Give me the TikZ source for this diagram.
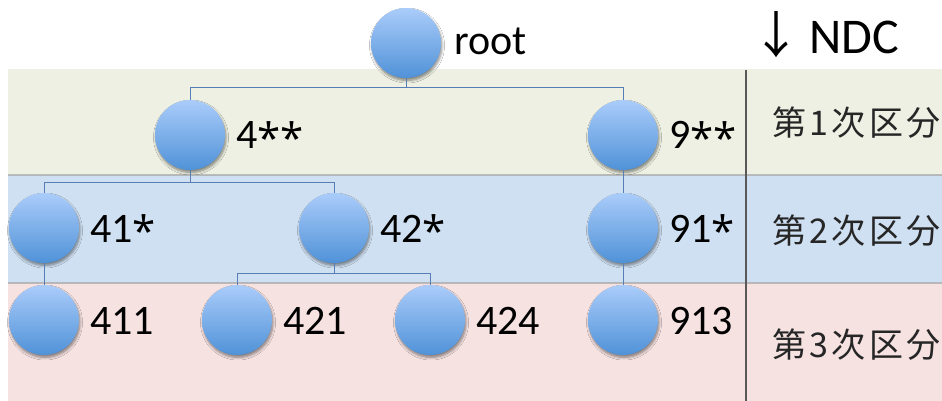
\documentclass[tikz,border=0pt]{standalone}
\usepackage{fontspec}
\setmainfont{Carlito}
\newfontfamily\jp{Noto Sans CJK JP}
\newfontfamily\jprow[LetterSpace=10]{Noto Sans CJK JP}
\newfontfamily\starfont{Open Sans}
\usetikzlibrary{calc,shadows.blur}

\definecolor{bandA}{RGB}{237,240,226}
\definecolor{bandB}{RGB}{207,224,242}
\definecolor{bandC}{RGB}{245,226,225}
\definecolor{ballTop}{RGB}{170,204,250}
\definecolor{ballBot}{RGB}{80,146,216}
\definecolor{wire}{RGB}{88,126,182}
\definecolor{rowtext}{RGB}{38,38,38}

% wildcard stars of the class codes, set a little larger
\newcommand\wild[1]{{\starfont\raisebox{-4.5pt}{#1}}}

\tikzset{
  ball/.style={circle, minimum size=70pt, inner sep=0pt,
    top color=ballTop, bottom color=ballBot, draw=none,
    blur shadow={shadow xshift=1pt, shadow yshift=-2.5pt,
      shadow blur steps=6, shadow opacity=45, shadow blur radius=2.5pt}},
  lbl/.style={anchor=base west, inner sep=0pt,
    font=\fontsize{42}{48}\selectfont},
  wirestyle/.style={draw=wire, line width=1pt},
  rowlbl/.style={anchor=west, inner sep=0pt, text=rowtext,
    font=\jprow\fontsize{34}{40}\selectfont},
  seam/.style={draw=black!35, line width=1.6pt, opacity=0.7}
}

\begin{document}
\begin{tikzpicture}[x=1pt, y=-1pt]
  \useasboundingbox (0,0) rectangle (942,401);
  \fill[white] (0,0) rectangle (942,401);

  % level bands
  \fill[bandA] (8,69) rectangle (942,175);
  \fill[bandB] (8,175) rectangle (942,283);
  \fill[bandC] (8,283) rectangle (942,401);
  \draw[seam] (8,175) -- (942,175);
  \draw[seam] (8,283) -- (942,283);

  % divider between tree and level names
  \draw[black!65, line width=2pt] (746,70) -- (746,401);

  % tree nodes
  \node[ball] (root) at (406,43) {};
  \node[ball] (n4)   at (190,135) {};
  \node[ball] (n9)   at (623,135) {};
  \node[ball] (n41)  at (44,228) {};
  \node[ball] (n42)  at (334,228) {};
  \node[ball] (n91)  at (623,228) {};
  \node[ball] (n411) at (44,320) {};
  \node[ball] (n421) at (237,320) {};
  \node[ball] (n424) at (430,320) {};
  \node[ball] (n913) at (623,320) {};

  % connectors
  \draw[wirestyle] (root.south) -- (root.south |- 0,88) -| (n4.north);
  \draw[wirestyle] (root.south |- 0,88) -| (n9.north);
  \draw[wirestyle] (n4.south) -- (n4.south |- 0,182) -| (n41.north);
  \draw[wirestyle] (n4.south |- 0,182) -| (n42.north);
  \draw[wirestyle] (n41.south) -- (n411.north);
  \draw[wirestyle] (n42.south) -- (n42.south |- 0,273) -| (n421.north);
  \draw[wirestyle] (n42.south |- 0,273) -| (n424.north);
  \draw[wirestyle] (n9.south) -- (n91.north);
  \draw[wirestyle] (n91.south) -- (n913.north);

  % node labels
  \node[lbl] (troot) at ($(root)+(48,12)$) {root};
  \node[lbl] (t4)    at ($(n4)+(46,14)$) {4\wild{**}};
  \node[lbl] (t9)    at ($(n9)+(46,14)$) {9\wild{**}};
  \node[lbl] (t41)   at ($(n41)+(46,14)$) {41\wild{*}};
  \node[lbl] (t42)   at ($(n42)+(46,14)$) {42\wild{*}};
  \node[lbl] (t91)   at ($(n91)+(46,14)$) {91\wild{*}};
  \node[lbl] (t411)  at ($(n411)+(46,14)$) {411};
  \node[lbl] (t421)  at ($(n421)+(46,14)$) {421};
  \node[lbl] (t424)  at ($(n424)+(46,14)$) {424};
  \node[lbl] (t913)  at ($(n913)+(46,14)$) {913};

  % heading of the level column
  \node[anchor=base west, inner sep=0pt, font=\fontsize{50}{56}\selectfont]
    (ndc) at (751,54) {{\jp ↓}\,NDC};

  % level names
  \node[rowlbl] (r1) at (772,123) {第1次区分};
  \node[rowlbl] (r2) at (772,231) {第2次区分};
  \node[rowlbl] (r3) at (772,345) {第3次区分};
\end{tikzpicture}
\end{document}
